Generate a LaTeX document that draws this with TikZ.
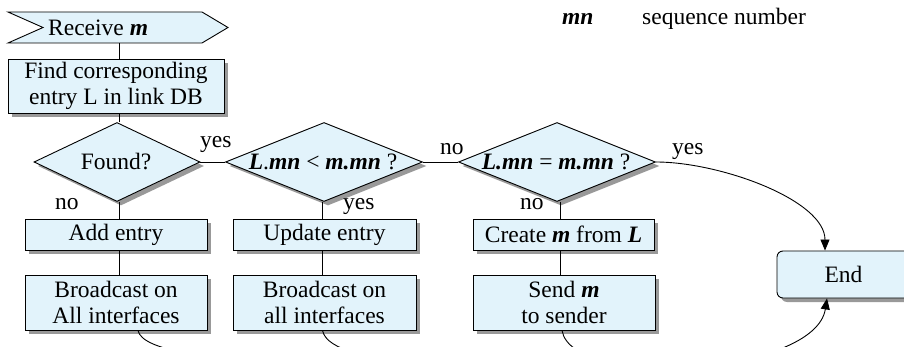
\documentclass[tikz,border=0pt]{standalone}
\usepackage{fontspec}
\setmainfont{Liberation Serif}
\usetikzlibrary{shapes.geometric,shadows,arrows.meta}
\definecolor{boxfill}{HTML}{E2F3FB}
\definecolor{shadowgray}{HTML}{999999}
\tikzset{
  every node/.style={font=\fontsize{23.5}{26}\selectfont},
  ln/.style={line width=0.9pt},
  shad/.style={drop shadow={shadow xshift=4pt, shadow yshift=-4pt, fill=shadowgray, opacity=1}},
  box/.style={draw, ln, fill=boxfill, inner sep=0pt, align=center, shad},
  dec/.style={diamond, draw, ln, fill=boxfill, inner sep=0pt, shad},
  txt/.style={inner sep=0pt},
  lbl/.style={inner sep=0pt, anchor=base west},
  arr/.style={ln, -{Triangle[length=11pt,width=9pt]}}
}
\newcommand{\bi}[1]{\textbf{\textit{#1}}}
\begin{document}
\begin{tikzpicture}[x=1pt,y=-1pt]
\useasboundingbox (0,0) rectangle (904,347);
\clip (0,0) rectangle (904,347);

% legend
\node[lbl] (mnk) at (562,25) {\bi{mn}};
\node[lbl] (mnd) at (642,25) {sequence number};

% start
\draw[ln, fill=boxfill] (8,12) -- (202,12) -- (228,27.5) -- (202,43) -- (8,43) -- (43,27.5) -- cycle;
\node[lbl] (recv) at (48,36) {Receive \bi{m}};
\coordinate (recvb) at (119,43);

% nodes
\node[box, minimum width=216, minimum height=54] (find) at (116,86) {Find corresponding\\entry L in link DB};
\node[dec, minimum width=166, minimum height=79] (found) at (117,162) {};
\node[txt] (foundt) at (116,162) {Found?};
\node[dec, minimum width=197, minimum height=79] (lt) at (324,162) {};
\node[txt] (ltt) at (323,162) {\bi{L}.\bi{mn} < \bi{m.mn} ?};
\node[dec, minimum width=197, minimum height=79] (eq) at (557,162) {};
\node[txt] (eqt) at (556,162) {\bi{L.mn} = \bi{m.mn} ?};

\node[box, minimum width=182, minimum height=31] (add) at (116,234.5) {Add entry};
\node[box, minimum width=182, minimum height=55] (bc1) at (116,302.5) {Broadcast on\\All interfaces};
\node[box, minimum width=183, minimum height=31] (upd) at (324.5,234.5) {Update entry};
\node[box, minimum width=183, minimum height=55] (bc2) at (324.5,302.5) {Broadcast on\\all interfaces};
\node[box, minimum width=181, minimum height=31] (crt) at (563.5,234.5) {Create \bi{m} from \bi{L}};
\node[box, minimum width=182, minimum height=55] (snd) at (564,302.5) {Send \bi{m}\\to sender};
\node[box, rounded corners=6pt, minimum width=133, minimum height=47] (endn) at (843.5,274.5) {End};

% connectors
\draw[ln] (recvb) -- (recvb |- find.north);
\draw[ln] ([xshift=2pt]found.north |- find.south) -- ([xshift=2pt]found.north);
\draw[ln] (found.east) -- (lt.west);
\draw[ln] (lt.east) -- (eq.west);
\draw[ln] ([xshift=2pt]found.south) -- ([xshift=2pt]found.south |- add.north);
\draw[ln] ([xshift=2pt]found.south |- add.south) -- ([xshift=2pt]found.south |- bc1.north);
\draw[ln] ([xshift=-2pt]lt.south) -- ([xshift=-2pt]lt.south |- upd.north);
\draw[ln] ([xshift=-2pt]lt.south |- upd.south) -- ([xshift=-2pt]lt.south |- bc2.north);
\draw[ln] ([xshift=3pt]eq.south) -- ([xshift=3pt]eq.south |- crt.north);
\draw[ln] ([xshift=3pt]eq.south |- crt.south) -- ([xshift=3pt]eq.south |- snd.north);

\draw[arr] (eq.east) .. controls (720,162) and (825,200) .. ([xshift=-18.5pt]endn.north);

\coordinate (jn) at (640,367);
\draw[ln] ([xshift=22pt]bc1.south) .. controls +(8,40) and (400,367) .. (jn);
\draw[ln] ([xshift=-2pt]bc2.south) .. controls +(8,40) and (500,367) .. (jn);
\draw[arr] ([xshift=-2pt]snd.south) .. controls (572,390) and (815,375) .. ([xshift=-16.5pt]endn.south);

% labels
\node[lbl] (y1) at (200,148) {yes};
\node[lbl] (n1) at (440,155) {no};
\node[lbl] (y2) at (672,155) {yes};
\node[lbl] (n2) at (55,210) {no};
\node[lbl] (y3) at (343,210) {yes};
\node[lbl] (n3) at (520,210) {no};
\end{tikzpicture}
\end{document}
